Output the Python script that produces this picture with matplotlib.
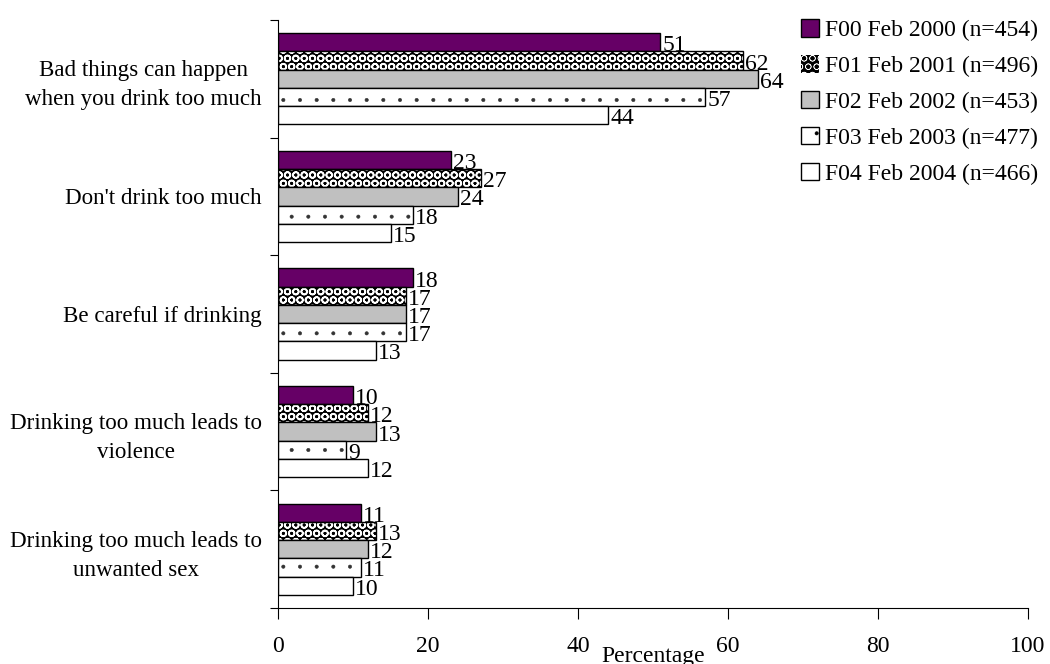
import numpy as np
import matplotlib.pyplot as plt

categories = [
    "Bad things can happen\nwhen you drink too much",
    "Don't drink too much",
    "Be careful if drinking",
    "Drinking too much leads to\nviolence",
    "Drinking too much leads to\nunwanted sex",
]
series_names = [
    "F00 Feb 2000 (n=454)",
    "F01 Feb 2001 (n=496)",
    "F02 Feb 2002 (n=453)",
    "F03 Feb 2003 (n=477)",
    "F04 Feb 2004 (n=466)",
]
f00 = [51, 23, 18, 10, 11]
f01 = [62, 27, 17, 12, 13]
f02 = [64, 24, 17, 13, 12]
f03 = [57, 18, 17, 9, 11]
f04 = [44, 15, 13, 12, 10]
xticks = [0, 20, 40, 60, 80, 100]

plt.rcParams["font.family"] = ["Liberation Serif", "DejaVu Serif"]

FS = 17

fig = plt.figure(figsize=(10.5, 6.64), dpi=100)
ax = fig.add_axes([0.2648, 0.0843, 0.7142, 0.8856])

y = np.arange(len(categories))
h = 0.155
series = [f00, f01, f02, f03, f04]
colors = ["#660066", "black", "#c0c0c0", "white", "white"]

handles = []
for i, (vals, col) in enumerate(zip(series, colors)):
    pos = y - 2 * h + i * h
    if i == 1:
        # black ground with white rings for the checked pattern
        plt.rcParams["hatch.linewidth"] = 1.2
        ax.barh(pos, vals, height=h, color="black", hatch="OO",
                edgecolor="white", linewidth=0)
        ax.barh(pos, vals, height=h, fill=False, edgecolor="black", linewidth=1)
        hdl = plt.Rectangle((0, 0), 1, 1, facecolor="black", hatch="OO",
                            edgecolor="white", linewidth=0)
    elif i == 3:
        # sparse small dots
        plt.rcParams["hatch.linewidth"] = 0.4
        ax.barh(pos, vals, height=h, color="white", hatch=".",
                edgecolor="#333333", linewidth=0)
        ax.barh(pos, vals, height=h, fill=False, edgecolor="black", linewidth=1)
        hdl = plt.Rectangle((0, 0), 1, 1, facecolor="white", hatch=".",
                            edgecolor="black", linewidth=1)
    else:
        ax.barh(pos, vals, height=h, color=col, edgecolor="black", linewidth=1)
        hdl = plt.Rectangle((0, 0), 1, 1, facecolor=col,
                            edgecolor="black", linewidth=1)
    handles.append(hdl)
    for p, v in zip(pos, vals):
        ax.text(v + 0.3, p + 0.03, str(v), va="center", ha="left", fontsize=FS)

ax.set_xlim(0, 100)
ax.set_ylim(len(categories) - 0.5, -0.5)
ax.set_xticks(xticks)
ax.set_xticklabels([str(t) for t in xticks], fontsize=FS)
ax.set_yticks(np.arange(len(categories) + 1) - 0.5, minor=False)
ax.set_yticklabels([])
ax.set_yticks(y, minor=True)
ax.set_yticklabels(categories, minor=True, fontsize=16.6,
                   multialignment="center", linespacing=1.5)
ax.tick_params(axis="y", which="minor", length=0, pad=11.5)
ax.tick_params(axis="y", which="major", length=6, direction="out")
ax.tick_params(axis="x", length=8, direction="out", pad=12)
ax.set_xlabel("Percentage", fontsize=FS, labelpad=-8)

for s in ["top", "right"]:
    ax.spines[s].set_visible(False)

fig.legend(handles, series_names, loc="upper left",
           bbox_to_anchor=(0.754, 0.985), frameon=False, fontsize=FS,
           handlelength=0.75, handleheight=0.75, handletextpad=0.25,
           labelspacing=0.59, borderaxespad=0)

fig.savefig("out.png", dpi=100)
